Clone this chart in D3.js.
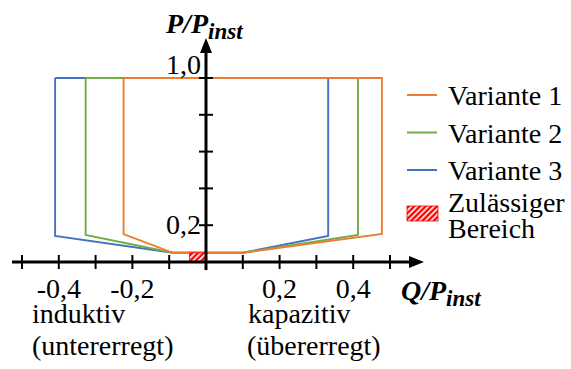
<!DOCTYPE html>
<html>
<head>
<meta charset="utf-8">
<script src="https://cdn.jsdelivr.net/npm/d3@7"></script>
</head>
<body style="margin:0">
<svg width="571" height="369"></svg>
<script>
// data
var series = ["Variante 1", "Variante 2", "Variante 3"];
var colors = ["#ED7D31", "#70AD47", "#4472C4"];
// corner points (Q, P) for each variant, going round the outline
var variante1 = [[-0.224, 1.0], [-0.224, 0.152], [-0.09, 0.05], [0.1, 0.05], [0.478, 0.152], [0.478, 1.0], [-0.224, 1.0]];
var variante2 = [[-0.327, 1.0], [-0.327, 0.147], [-0.09, 0.05], [0.1, 0.05], [0.413, 0.147], [0.413, 1.0], [-0.327, 1.0]];
var variante3 = [[-0.41, 1.0], [-0.41, 0.142], [-0.09, 0.05], [0.1, 0.05], [0.332, 0.142], [0.332, 1.0], [-0.41, 1.0]];
var zulaessig = { q0: -0.045, q1: 0, p0: 0, p1: 0.05 };
var xTicks = [-0.5, -0.4, -0.3, -0.2, -0.1, 0.1, 0.2, 0.3, 0.4, 0.5];
var xLabels = [[-0.4, "-0,4"], [-0.2, "-0,2"], [0.2, "0,2"], [0.4, "0,4"]];
var yTicks = [0.2, 0.4, 0.6, 0.8, 1.0];
var yLabels = [[0.2, "0,2"], [1.0, "1,0"]];

var FONT = "'Liberation Serif', 'Times New Roman', Tinos, FreeSerif";
var FS = "28px";
var svg = d3.select("svg").style("font-family", FONT);
var x = d3.scaleLinear().domain([-0.5, 0.5]).range([22, 390]);
var y = d3.scaleLinear().domain([0, 1]).range([262, 78]);

var defs = svg.append("defs");
var pat = defs.append("pattern").attr("id", "hatch")
    .attr("patternUnits", "userSpaceOnUse").attr("width", 4).attr("height", 4)
    .attr("patternTransform", "rotate(45)");
pat.append("rect").attr("width", 4).attr("height", 4).attr("fill", "#FF0000");
pat.append("rect").attr("width", 1.6).attr("height", 4).attr("fill", "#fff");

defs.append("marker").attr("id", "arrow")
    .attr("viewBox", "0 0 10 10").attr("refX", 2).attr("refY", 5)
    .attr("markerWidth", 5).attr("markerHeight", 5).attr("orient", "auto")
    .attr("markerUnits", "strokeWidth")
  .append("path").attr("d", "M0,1 L10,5 L0,9 Z").attr("fill", "#000");

// outlines
var line = d3.line().x(function (d) { return x(d[0]); }).y(function (d) { return y(d[1]); });
var data = [variante3, variante2, variante1];
var cols = [colors[2], colors[1], colors[0]];
svg.append("g").selectAll("path").data(data).enter().append("path")
    .attr("d", line).attr("fill", "none")
    .attr("stroke", function (d, i) { return cols[i]; })
    .attr("stroke-width", 1.9);

// allowed area
svg.append("rect")
    .attr("x", x(zulaessig.q0)).attr("y", y(zulaessig.p1))
    .attr("width", x(zulaessig.q1) - x(zulaessig.q0))
    .attr("height", y(zulaessig.p0) - y(zulaessig.p1))
    .attr("fill", "url(#hatch)").attr("stroke", "#FF0000").attr("stroke-width", 0.8);

// axes
svg.append("line").attr("x1", 12).attr("x2", 412).attr("y1", y(0)).attr("y2", y(0))
    .attr("stroke", "#000").attr("stroke-width", 3).attr("marker-end", "url(#arrow)");
svg.append("line").attr("x1", x(0)).attr("x2", x(0)).attr("y1", 270).attr("y2", 50)
    .attr("stroke", "#000").attr("stroke-width", 3).attr("marker-end", "url(#arrow)");

svg.append("g").selectAll("line").data(xTicks).enter().append("line")
    .attr("x1", x).attr("x2", x)
    .attr("y1", y(0) - 7).attr("y2", y(0) + 7)
    .attr("stroke", "#000").attr("stroke-width", 2);
svg.append("g").selectAll("line").data(yTicks).enter().append("line")
    .attr("x1", x(0) - 7).attr("x2", x(0) + 7)
    .attr("y1", y).attr("y2", y)
    .attr("stroke", "#000").attr("stroke-width", 2);

svg.append("g").selectAll("text").data(xLabels).enter().append("text")
    .attr("x", function (d) { return x(d[0]); }).attr("y", 298)
    .attr("text-anchor", "middle").style("font-size", FS)
    .text(function (d) { return d[1]; });
svg.append("g").selectAll("text").data(yLabels).enter().append("text")
    .attr("x", x(0) - 5).attr("y", function (d) { return y(d[0]) + 9; })
    .attr("dy", function (d) { return d[0] === 1 ? -13 : 0; })
    .attr("text-anchor", "end").style("font-size", FS)
    .text(function (d) { return d[1]; });

// axis titles
var yt = svg.append("text").attr("x", 166).attr("y", 33)
    .style("font-size", FS).style("font-weight", "bold").style("font-style", "italic");
yt.append("tspan").text("P/P");
yt.append("tspan").style("font-size", "23px").attr("dy", 6).text("inst");
var xt = svg.append("text").attr("x", 401).attr("y", 300)
    .style("font-size", FS).style("font-weight", "bold").style("font-style", "italic");
xt.append("tspan").text("Q/P");
xt.append("tspan").style("font-size", "23px").attr("dy", 6).text("inst");

// side notes
var notes = [[32, 323, "induktiv"], [32, 355, "(untererregt)"], [248, 323, "kapazitiv"], [247, 355, "(übererregt)"]];
svg.append("g").selectAll("text").data(notes).enter().append("text")
    .attr("x", function (d) { return d[0]; }).attr("y", function (d) { return d[1]; })
    .style("font-size", FS).text(function (d) { return d[2]; });

// legend
var lg = svg.append("g");
series.forEach(function (s, i) {
    var ly = 95 + i * 37.5;
    lg.append("line").attr("x1", 407).attr("x2", 437).attr("y1", ly).attr("y2", ly)
        .attr("stroke", colors[i]).attr("stroke-width", 2);
    lg.append("text").attr("x", 448).attr("y", ly + 10).style("font-size", FS).text(s);
});
lg.append("rect").attr("x", 407).attr("y", 206).attr("width", 31).attr("height", 15)
    .attr("fill", "url(#hatch)").attr("stroke", "#FF0000").attr("stroke-width", 0.8);
lg.append("text").attr("x", 448).attr("y", 212).style("font-size", FS).text("Zulässiger");
lg.append("text").attr("x", 448).attr("y", 238).style("font-size", FS).text("Bereich");
</script>
</body>
</html>
